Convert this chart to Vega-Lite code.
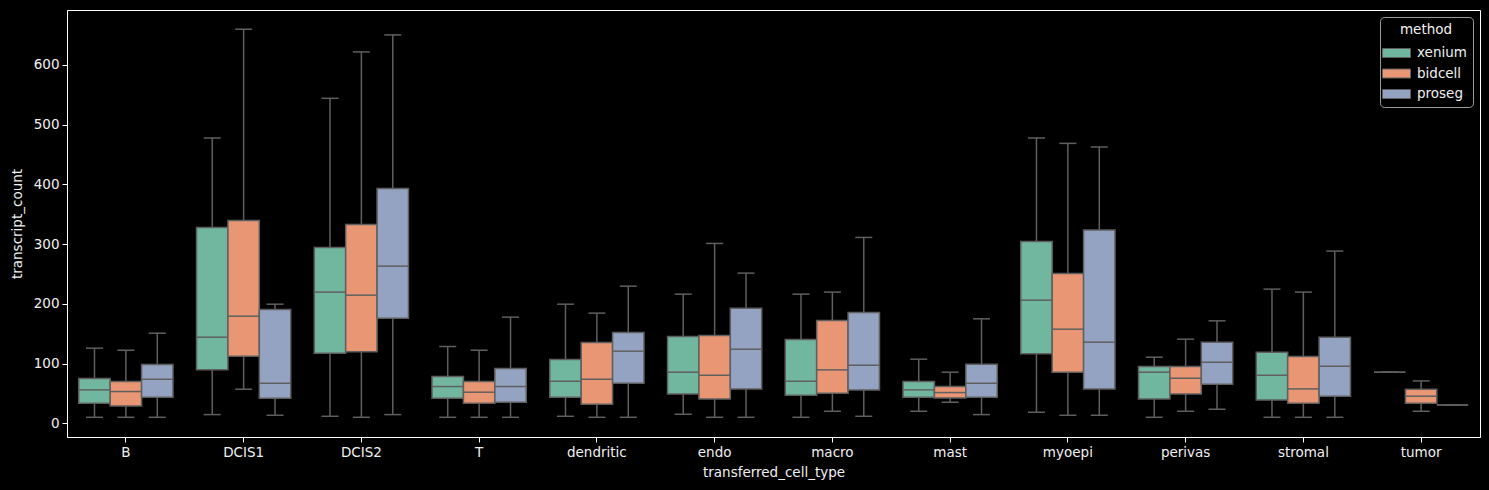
{
  "$schema": "https://vega.github.io/schema/vega-lite/v6.json",
  "autosize": {"type": "none"},
  "padding": {"left": 67, "top": 10, "right": 9, "bottom": 53},
  "width": 1413,
  "height": 427,
  "background": "#000000",
  "data": {"values": [
    {"cell": "B", "method": "xenium", "min": 10, "q1": 33.5, "median": 55.9, "q3": 74.9, "max": 125.7},
    {"cell": "B", "method": "bidcell", "min": 10, "q1": 29, "median": 53.1, "q3": 69.8, "max": 122.3},
    {"cell": "B", "method": "proseg", "min": 10, "q1": 43.6, "median": 73.7, "q3": 98.3, "max": 150.8},
    {"cell": "DCIS1", "method": "xenium", "min": 14.5, "q1": 89.4, "median": 144.1, "q3": 327.9, "max": 477.7},
    {"cell": "DCIS1", "method": "bidcell", "min": 57, "q1": 112.3, "median": 179.3, "q3": 339.7, "max": 659.8},
    {"cell": "DCIS1", "method": "proseg", "min": 13.4, "q1": 41.9, "median": 67, "q3": 190.5, "max": 199.4},
    {"cell": "DCIS2", "method": "xenium", "min": 11.7, "q1": 117.3, "median": 219.6, "q3": 294.4, "max": 544.1},
    {"cell": "DCIS2", "method": "bidcell", "min": 10, "q1": 119.6, "median": 214.5, "q3": 333, "max": 621.8},
    {"cell": "DCIS2", "method": "proseg", "min": 14.5, "q1": 176, "median": 263.1, "q3": 393.3, "max": 650.3},
    {"cell": "T", "method": "xenium", "min": 10, "q1": 41.9, "median": 61.5, "q3": 78.2, "max": 128.5},
    {"cell": "T", "method": "bidcell", "min": 10, "q1": 33.5, "median": 52, "q3": 69.8, "max": 122.3},
    {"cell": "T", "method": "proseg", "min": 10, "q1": 35.2, "median": 61.5, "q3": 91.6, "max": 177.7},
    {"cell": "dendritic", "method": "xenium", "min": 11.7, "q1": 43.6, "median": 70.4, "q3": 106.7, "max": 199.4},
    {"cell": "dendritic", "method": "bidcell", "min": 10, "q1": 31.8, "median": 73.7, "q3": 135.2, "max": 184.4},
    {"cell": "dendritic", "method": "proseg", "min": 10, "q1": 67, "median": 120.7, "q3": 152, "max": 229.6},
    {"cell": "endo", "method": "xenium", "min": 15.1, "q1": 49.2, "median": 85.5, "q3": 145.3, "max": 216.2},
    {"cell": "endo", "method": "bidcell", "min": 10, "q1": 40.8, "median": 80.4, "q3": 146.9, "max": 301.1},
    {"cell": "endo", "method": "proseg", "min": 10, "q1": 57.5, "median": 124, "q3": 192.7, "max": 251.4},
    {"cell": "macro", "method": "xenium", "min": 10, "q1": 46.9, "median": 70.4, "q3": 140.2, "max": 216.2},
    {"cell": "macro", "method": "bidcell", "min": 20.1, "q1": 50.3, "median": 89.4, "q3": 172.1, "max": 219.6},
    {"cell": "macro", "method": "proseg", "min": 11.7, "q1": 55.9, "median": 97.2, "q3": 185.5, "max": 311.2},
    {"cell": "mast", "method": "xenium", "min": 20.1, "q1": 43.6, "median": 55.9, "q3": 69.8, "max": 107.3},
    {"cell": "mast", "method": "bidcell", "min": 35.2, "q1": 42.5, "median": 51.4, "q3": 61.5, "max": 85.5},
    {"cell": "mast", "method": "proseg", "min": 14.5, "q1": 43.6, "median": 67, "q3": 98.9, "max": 174.9},
    {"cell": "myoepi", "method": "xenium", "min": 18.4, "q1": 116.2, "median": 206.1, "q3": 304.5, "max": 477.7},
    {"cell": "myoepi", "method": "bidcell", "min": 13.4, "q1": 85.5, "median": 157.5, "q3": 250.8, "max": 468.7},
    {"cell": "myoepi", "method": "proseg", "min": 13.4, "q1": 57.5, "median": 135.8, "q3": 323.5, "max": 462.6},
    {"cell": "perivas", "method": "xenium", "min": 10, "q1": 40.8, "median": 85.5, "q3": 95, "max": 110.6},
    {"cell": "perivas", "method": "bidcell", "min": 20.1, "q1": 49.2, "median": 75.4, "q3": 95, "max": 140.8},
    {"cell": "perivas", "method": "proseg", "min": 23.5, "q1": 65.4, "median": 102.2, "q3": 135.8, "max": 171.5},
    {"cell": "stromal", "method": "xenium", "min": 10, "q1": 39.1, "median": 80.4, "q3": 119, "max": 224.6},
    {"cell": "stromal", "method": "bidcell", "min": 10, "q1": 33.5, "median": 57.5, "q3": 111.7, "max": 219.6},
    {"cell": "stromal", "method": "proseg", "min": 10, "q1": 45.3, "median": 95.5, "q3": 144.1, "max": 288.3},
    {"cell": "tumor", "method": "xenium", "min": 85.5, "q1": 85.5, "median": 85.5, "q3": 85.5, "max": 85.5},
    {"cell": "tumor", "method": "bidcell", "min": 20.1, "q1": 33.5, "median": 45.3, "q3": 57, "max": 70.9},
    {"cell": "tumor", "method": "proseg", "min": 30.7, "q1": 30.7, "median": 30.7, "q3": 30.7, "max": 30.7}
  ]},
  "encoding": {
    "x": {"field": "cell", "type": "nominal", "sort": null, "title": "transferred_cell_type",
      "scale": {"paddingInner": 0.2, "paddingOuter": 0.1},
      "axis": {"labelAngle": 0, "labelPadding": 3, "titlePadding": 7}},
    "xOffset": {"field": "method", "type": "nominal", "sort": ["xenium", "bidcell", "proseg"],
      "scale": {"domain": ["xenium", "bidcell", "proseg"], "paddingInner": 0, "paddingOuter": 0}}
  },
  "layer": [
    {"mark": {"type": "rule", "color": "#5f5f5f", "strokeWidth": 1.5},
     "encoding": {
       "y": {"field": "min", "type": "quantitative", "title": "transcript_count",
         "scale": {"domain": [-23, 692], "nice": false, "zero": false},
         "axis": {"values": [0, 100, 200, 300, 400, 500, 600], "labelPadding": 3, "titlePadding": 9}},
       "y2": {"field": "max"}}},
    {"mark": {"type": "tick", "color": "#5f5f5f", "size": 17, "thickness": 1.5, "opacity": 1},
     "encoding": {"y": {"field": "min", "type": "quantitative"}}},
    {"mark": {"type": "tick", "color": "#5f5f5f", "size": 17, "thickness": 1.5, "opacity": 1},
     "encoding": {"y": {"field": "max", "type": "quantitative"}}},
    {"mark": {"type": "bar", "stroke": "#5f5f5f", "strokeWidth": 1.5, "opacity": 1},
     "encoding": {
       "y": {"field": "q1", "type": "quantitative"},
       "y2": {"field": "q3"},
       "color": {"field": "method", "type": "nominal", "title": "method",
         "scale": {"domain": ["xenium", "bidcell", "proseg"], "range": ["#71b7a0", "#e99675", "#95a3c3"]},
         "legend": {"orient": "top-right", "offset": 7}}}},
    {"mark": {"type": "tick", "color": "#5f5f5f", "size": 31, "thickness": 1.5, "opacity": 1},
     "encoding": {"y": {"field": "median", "type": "quantitative"}}}
  ],
  "config": {
    "view": {"stroke": "#ffffff", "strokeWidth": 1},
    "font": "DejaVu Sans",
    "axis": {"domainColor": "#ffffff", "tickColor": "#ffffff", "labelColor": "#f0f0f0", "titleColor": "#f0f0f0",
      "labelFont": "DejaVu Sans", "titleFont": "DejaVu Sans", "labelFontSize": 13.5, "titleFontSize": 13.5,
      "titleFontWeight": "normal", "grid": false, "tickSize": 5, "domainWidth": 1},
    "legend": {"fillColor": "#000000", "strokeColor": "#9a9a9a", "cornerRadius": 4, "padding": 6,
      "titleColor": "#f0f0f0", "labelColor": "#f0f0f0", "titleFont": "DejaVu Sans", "labelFont": "DejaVu Sans",
      "titleFontSize": 13.5, "labelFontSize": 13.5, "titleFontWeight": "normal", "titleAnchor": "middle",
      "titlePadding": 6,
      "symbolType": "M-1.4,-0.45H1.4V0.45H-1.4Z", "symbolSize": 400, "symbolStrokeColor": "#5f5f5f",
      "symbolStrokeWidth": 1, "symbolOpacity": 1, "rowPadding": 3.5, "labelOffset": 10}
  }
}
